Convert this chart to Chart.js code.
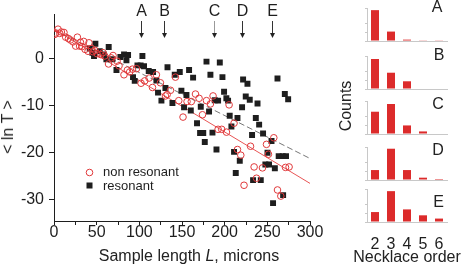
<!DOCTYPE html>
<html>
<head>
<meta charset="utf-8">
<script src="https://cdn.jsdelivr.net/npm/chart.js@4.4.0/dist/chart.umd.min.js"></script>
<style>
body { margin: 0; background: #fff; }
#wrap { position: relative; width: 463px; height: 267px; overflow: hidden; font-family: "Liberation Sans", Arial, sans-serif; color: #222; }
canvas { position: absolute; }
.txt { position: absolute; white-space: nowrap; transform: translate(-50%, -50%); font-size: 16px; }
.rot { transform: translate(-50%, -50%) rotate(-90deg); }
</style>
</head>
<body>
<div id="wrap">
  <canvas id="main" width="463" height="267" style="left:0;top:0"></canvas>
</div>
<script>
// scatter data: sample length (microns) vs <ln T>
const nonResX = [1, 2, 4.7, 6.7, 8.6, 11.7, 13.7, 16.9, 19.2, 22.3, 25.4, 27.4, 30, 31, 33, 34.8, 36.4, 39.9, 41, 44,
  45.7, 48, 50.4, 54.7, 57.4, 59.4, 63.9, 67, 69.2, 73.9, 76.2, 82, 86, 88.7, 91.9, 96.6, 102, 106.3, 111.4, 115.4,
  120, 124.7, 130.6, 132.6, 136.5, 142.3, 146.2, 151.2, 155.9, 160.9, 165.8, 170, 174, 178.7, 183.3, 186.4, 192.3,
  196.5, 202.1, 205.2, 211, 215, 218.9, 222.7, 230.3, 234.5, 237.3, 244.3, 249, 251.3, 257.6, 261.9, 265.8, 271.3, 275.5];
const nonResY = [5.2, 5.5, 6.3, 5.4, 5.7, 5.6, 4.6, 4.3, 4.0, 3.6, 2.7, 4.6, 2.7, 3.5, 2.6, 3.7, 2.0, 1.6, 3.4, 2.2,
  1.5, 1.8, 1.1, 0.9, 1.3, 0.6, -1.1, 0.2, 0.7, -0.5, -1.5, -3.4, -2.4, -2.8, -2.2, -2.1, -5.2, -4.7, -4.1, -6.1,
  -3.4, -5.1, -7.9, -7.6, -6.7, -3.9, -8.9, -12.4, -9.1, -9.1, -7.5, -8.4, -11.9, -8.9, -9.6, -7.9, -15.0,
  -15.0, -15.6, -9.8, -13.7, -19.3, -20.5, -26.9, -18.6, -23, -25.4, -23.2, -18.2, -20.3, -16.8, -27.9, -29.2, -23.1, -23];

const resX = [41.9, 45, 46.9, 48.5, 53.6, 58.3, 61.4, 64.1, 68.5, 73.2, 77.8, 82.1, 84.9, 86.8, 92.6, 94.6, 97.8, 101.5,
  103.6, 105.5, 111, 116.1, 120, 121.9, 125.9, 130.6, 133, 138.8, 141.5, 147.4, 149.3, 152.4, 155.2, 158.3, 160.3,
  163, 167.6, 172, 178.7, 181.7, 183.3, 188.4, 192.3, 194.3, 197.4, 199.3, 202, 204, 205.9, 207.9, 215, 220.4,
  221.6, 226.7, 224.7, 229.4, 236.5, 238.5, 240.4, 261.9, 270.5, 274.4, 171.2, 174.9, 176.7, 185.7, 190.4, 211,
  213, 217.7, 232.1, 233.3, 242.3, 245, 247.7, 252, 250.2, 254.9, 258.8, 256.7, 263.3, 268, 271.9, 268.5];
const resY = [2.2, 1.3, 0.6, 3.2, 1.6, 0.9, -0.1, 2.5, -0.1, -2.4, 0.4, 0.9, -0.3, 0.8, -3.9, -4.7, -1.4, -1.4,
  0.6, -1.6, -2.6, -2.8, -4.6, -7.2, -8.9, -6.2, -1.8, -9.4, -3.4, -2.8, -6.8, -10.3, -7.7, -2.4, -11,
  -4, -13.7, -10.2, -0.6, -11.2, -3.4, -8.8, -8.9, -0.8, -3.9, -7, -8.4, -8.9, -12.1, -14.4, -12.6, -10.3,
  -4.4, -5.3, -8, -8.7, -12.6, -9.5, -14, -4.2, -7.5, -8.6, -15.8, -15.8, -17.7, -15.7, -19.3, -19.8,
  -24.3, -21.7, -16.2, -25.8, -25.8, -15.9, -22.5, -22.5, -20, -17.5, -23.3, -30.7, -20.7, -20.7, -20.7, -29];

// fitted lines
const fitX = [0, 300];
const nonResFitY = [6.3, -26.5];
const resFitY = [6.2, -21.2];

const xTicks = [0, 25, 50, 75, 100, 125, 150, 175, 200, 225, 250, 275, 300];
const yTicks = [-30, -20, -10, 0];

// arrows over the scatter
const arrowLabels = ['A', 'B', 'C', 'D', 'E'];
const arrowX = [102.4, 129, 187.2, 220.4, 254.9];

// necklace order histograms
const necklaceOrders = ['2', '3', '4', '5', '6'];
const countsA = [36, 11, 1.6, 0.8, 0.8];
const countsB = [35, 19, 9, 0, 0];
const countsC = [26, 35, 10, 3, 0];
const countsD = [11.6, 36.5, 11.6, 2.7, 1.2];
const countsE = [11.6, 36, 14.7, 7.8, 4];

const FONT = '"Liberation Sans", Arial, sans-serif';
const RED = '#e0393b';
const BAR_RED = '#dc2b2b';
const INK = '#1e1e1e';

const toPoints = (xs, ys) => xs.map((x, i) => ({ x: x, y: ys[i] }));

const overlay = {
    id: 'overlay',
    afterDatasetsDraw(chart) {
        const ctx = chart.ctx;
        const xs = chart.scales.x;
        ctx.save();
        ctx.font = '16px ' + FONT;
        ctx.textAlign = 'center';
        ctx.textBaseline = 'alphabetic';
        arrowLabels.forEach((lab, i) => {
            const px = Math.round(xs.getPixelForValue(arrowX[i])) + 0.5;
            ctx.fillStyle = INK;
            ctx.fillText(lab, px, 15.5);
            ctx.strokeStyle = i === 2 ? '#999' : '#333';
            ctx.lineWidth = 1;
            ctx.beginPath();
            ctx.moveTo(px, 21);
            ctx.lineTo(px, 34);
            ctx.stroke();
            ctx.fillStyle = '#222';
            ctx.beginPath();
            ctx.moveTo(px - 2.5, 33);
            ctx.lineTo(px + 2.5, 33);
            ctx.lineTo(px, 38);
            ctx.closePath();
            ctx.fill();
        });

        // legend
        ctx.strokeStyle = RED;
        ctx.beginPath();
        ctx.arc(89.5, 172.5, 3.3, 0, Math.PI * 2);
        ctx.stroke();
        ctx.fillStyle = INK;
        ctx.fillRect(86.5, 182.5, 6, 6);
        ctx.font = '13px ' + FONT;
        ctx.textAlign = 'left';
        ctx.fillText('non resonant', 103, 176);
        ctx.fillText('resonant', 103, 189.5);
        ctx.restore();
    }
};

new Chart(document.getElementById('main').getContext('2d'), {
    type: 'scatter',
    data: {
        datasets: [
            {
                label: 'non resonant',
                data: toPoints(nonResX, nonResY),
                pointStyle: 'circle',
                pointRadius: 3.3,
                pointBorderWidth: 1,
                pointBorderColor: RED,
                pointBackgroundColor: 'rgba(255,255,255,0)'
            },
            {
                label: 'resonant',
                data: toPoints(resX, resY),
                pointStyle: 'rect',
                pointRadius: 4.2,
                pointBorderWidth: 0,
                pointBackgroundColor: INK
            },
            {
                type: 'line',
                data: toPoints(fitX, nonResFitY),
                borderColor: '#e85555',
                borderWidth: 1,
                pointRadius: 0
            },
            {
                type: 'line',
                data: toPoints(fitX, resFitY),
                borderColor: '#777',
                borderWidth: 1,
                borderDash: [6, 3],
                pointRadius: 0
            }
        ]
    },
    options: {
        responsive: false,
        animation: false,
        events: [],
        layout: { padding: { top: 13, right: 153, left: 0, bottom: 0 } },
        plugins: { legend: { display: false }, tooltip: { enabled: false } },
        scales: {
            x: {
                type: 'linear',
                min: 0,
                max: 300,
                afterFit: s => { s.height = 46; },
                afterBuildTicks: s => { s.ticks = xTicks.map(v => ({ value: v })); },
                grid: { drawOnChartArea: false, tickLength: 4, color: INK },
                border: { color: INK },
                ticks: {
                    autoSkip: false,
                    maxRotation: 0,
                    padding: -2,
                    color: INK,
                    font: { family: FONT, size: 16 },
                    callback: v => (v % 50 === 0 ? String(v) : '')
                }
            },
            y: {
                min: -34.5,
                max: 9.4,
                afterFit: s => { s.width = 54; },
                afterBuildTicks: s => { s.ticks = yTicks.map(v => ({ value: v })); },
                grid: { drawOnChartArea: false, tickLength: 5, color: INK },
                border: { color: INK },
                ticks: {
                    padding: 5,
                    color: INK,
                    font: { family: FONT, size: 16 }
                }
            }
        }
    },
    plugins: [overlay]
});

// histogram panels, stacked on the right
const panels = [
    { name: 'A', counts: countsA, base: 40.7, lx: 437, ly: 7 },
    { name: 'B', counts: countsB, base: 88.7, lx: 439, ly: 55.3 },
    { name: 'C', counts: countsC, base: 134.3, lx: 438, ly: 103.7 },
    { name: 'D', counts: countsD, base: 180, lx: 438, ly: 150 },
    { name: 'E', counts: countsE, base: 221.7, lx: 438.5, ly: 202 }
];

const wrap = document.getElementById('wrap');
panels.forEach((p, i) => {
    const last = i === panels.length - 1;
    const top = Math.round(p.base) - 33;
    const cv = document.createElement('canvas');
    cv.width = 120;
    cv.height = last ? 78 : 34;
    cv.style.left = '330px';
    cv.style.top = top + 'px';
    wrap.appendChild(cv);

    new Chart(cv.getContext('2d'), {
        type: 'bar',
        data: {
            labels: necklaceOrders,
            datasets: [{
                data: p.counts,
                backgroundColor: BAR_RED,
                categoryPercentage: 1,
                barPercentage: 0.5
            }]
        },
        options: {
            responsive: false,
            animation: false,
            events: [],
            layout: { padding: { top: 0, right: 3, left: 0, bottom: 0 } },
            plugins: { legend: { display: false }, tooltip: { enabled: false } },
            scales: {
                x: {
                    afterFit: s => { s.height = last ? 45 : 1; },
                    grid: { display: false },
                    border: { color: '#c8c8c8' },
                    ticks: {
                        display: last,
                        autoSkip: false,
                        minRotation: 0,
                        maxRotation: 0,
                        padding: 5,
                        color: INK,
                        font: { family: FONT, size: 16 }
                    }
                },
                y: {
                    min: 0,
                    max: 38.5,
                    afterFit: s => { s.width = 37; },
                    grid: { drawOnChartArea: false, tickLength: 2, color: '#c8c8c8' },
                    border: { color: '#c8c8c8' },
                    ticks: { display: false, stepSize: 10 }
                }
            }
        }
    });

    const t = document.createElement('div');
    t.className = 'txt';
    t.style.left = p.lx + 'px';
    t.style.top = p.ly + 'px';
    t.textContent = p.name;
    wrap.appendChild(t);
});

// axis titles
const titles = [
    { html: 'Sample length <i>L</i>, microns', x: 189, y: 256, rot: false },
    { html: '&lt; ln T &gt;', x: 8, y: 127, rot: true },
    { html: 'Counts', x: 346, y: 106, rot: true },
    { html: 'Necklace order', x: 407, y: 257, rot: false }
];
titles.forEach(tt => {
    const d = document.createElement('div');
    d.className = tt.rot ? 'txt rot' : 'txt';
    d.style.left = tt.x + 'px';
    d.style.top = tt.y + 'px';
    d.innerHTML = tt.html;
    wrap.appendChild(d);
});
</script>
</body>
</html>
